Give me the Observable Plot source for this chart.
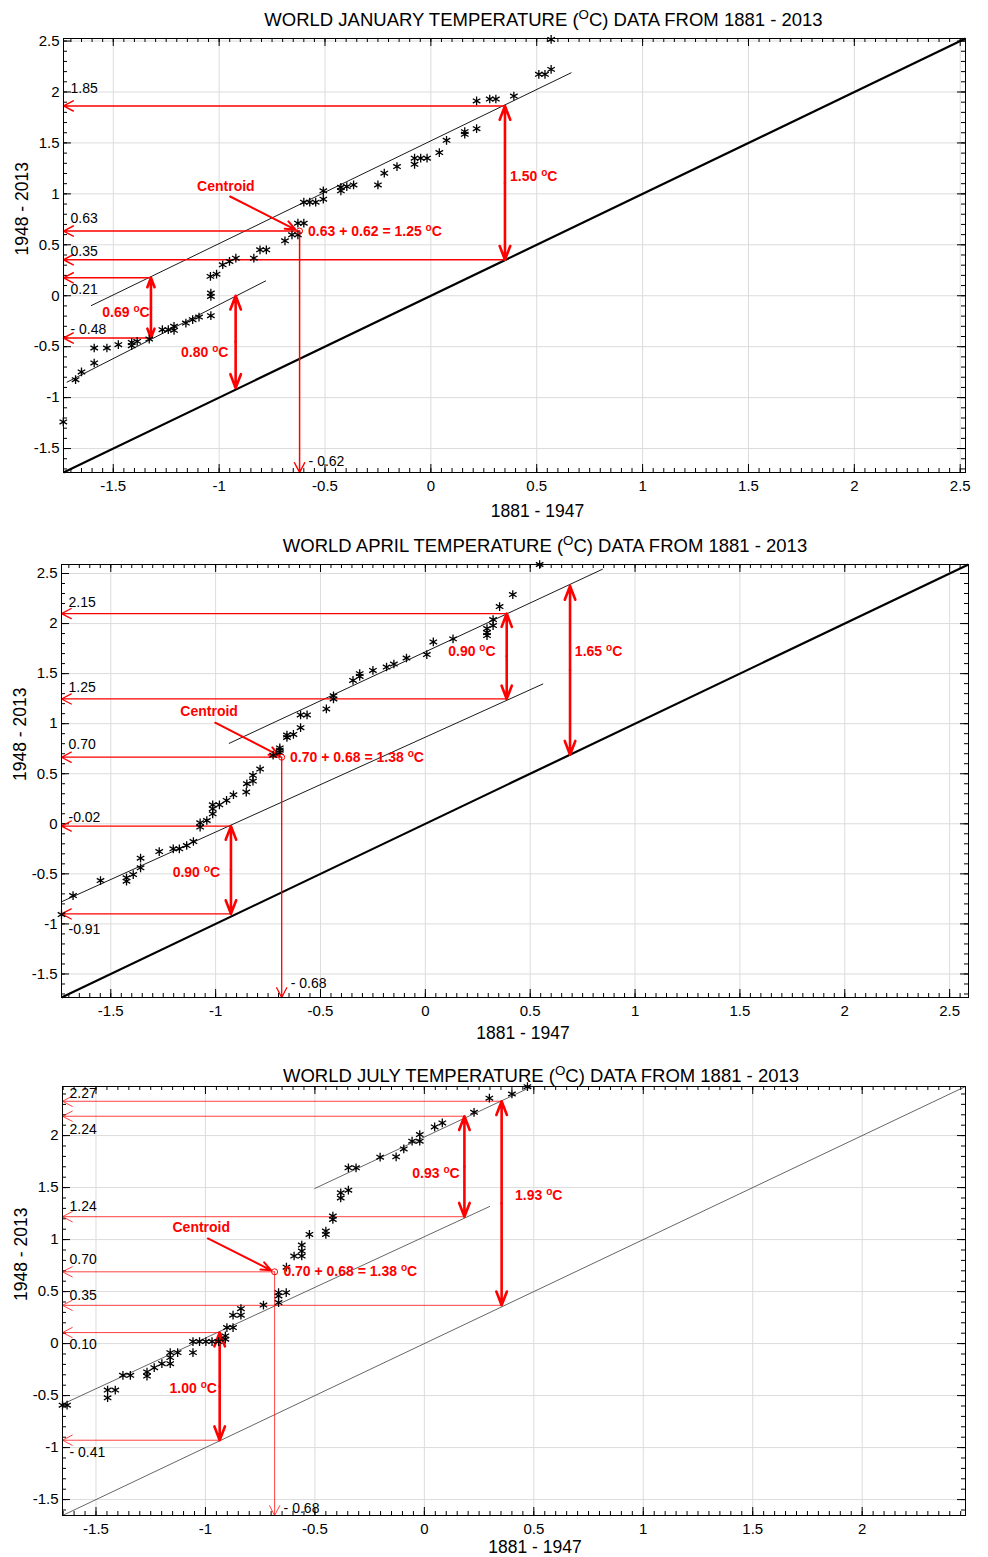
<!DOCTYPE html>
<html><head><meta charset="utf-8">
<script src="https://cdn.jsdelivr.net/npm/d3@7"></script>
<script src="https://cdn.jsdelivr.net/npm/@observablehq/plot@0.6"></script>
<style>
html,body{margin:0;padding:0;background:#fff}
body{width:988px;height:1557px;position:relative;overflow:hidden}
.panel{position:absolute;left:0}
.panel svg{display:block}
</style></head><body>
<div id="p1" class="panel" style="top:0px"></div>
<div id="p2" class="panel" style="top:525px"></div>
<div id="p3" class="panel" style="top:1050px"></div>
<script>
// ---------- data ----------
const majorTicks = [-1.5, -1, -0.5, 0, 0.5, 1, 1.5, 2, 2.5];
const titles = [
  "WORLD JANUARY TEMPERATURE (^OC) DATA FROM 1881 - 2013",
  "WORLD APRIL TEMPERATURE (^OC) DATA FROM 1881 - 2013",
  "WORLD JULY TEMPERATURE (^OC) DATA FROM 1881 - 2013"
];
const xLabel = "1881 - 1947";
const yLabel = "1948 - 2013";

// January: x = 1881-1947 anomaly, y = 1948-2013 anomaly
const janX = [0.568,0.51,0.539,0.568,0.392,0.216,0.278,0.307,0.216,0.16,0.16,0.074,0.04,-0.077,-0.048,-0.018,-0.077,-0.16,-0.22,-0.25,-0.365,-0.397,-0.425,-0.425,-0.508,-0.508,-0.6,-0.572,-0.544,-0.628,-0.6,-0.656,-0.628,-0.689,-0.807,-0.777,-0.836,-0.921,-0.951,-0.983,-1.012,-1.041,-1.039,-1.039,-1.039,-1.095,-1.125,-1.157,-1.213,-1.24,-1.268,-1.213,-1.33,-1.387,-1.413,-1.413,-1.476,-1.53,-1.59,-1.59,-1.65,-1.678,-1.736];
const janY = [2.516,2.173,2.173,2.222,1.96,1.912,1.931,1.931,1.64,1.611,1.585,1.526,1.405,1.35,1.35,1.35,1.29,1.268,1.203,1.088,1.088,1.072,1.065,1.03,1.03,0.948,0.918,0.918,0.918,0.712,0.712,0.598,0.598,0.539,0.451,0.451,0.369,0.369,0.337,0.304,0.212,0.19,0.026,-0.007,-0.196,-0.209,-0.235,-0.268,-0.30,-0.333,-0.333,-0.34,-0.425,-0.448,-0.458,-0.49,-0.48,-0.513,-0.513,-0.66,-0.748,-0.824,-1.239];

// April
const aprX = [0.545,0.417,0.354,0.323,0.323,0.294,0.294,0.294,0.132,0.038,0.007,-0.09,-0.15,-0.185,-0.25,-0.313,-0.313,-0.345,-0.438,-0.438,-0.472,-0.595,-0.564,-0.595,-0.66,-0.629,-0.66,-0.694,-0.694,-0.726,-0.694,-0.788,-0.822,-0.822,-0.851,-0.854,-0.915,-0.948,-0.982,-1.014,-1.014,-1.014,-1.042,-1.074,-1.074,-1.106,-1.138,-1.173,-1.202,-1.269,-1.358,-1.358,-1.393,-1.425,-1.425,-1.549,-1.68,-1.735];
const aprY = [2.59,2.29,2.17,2.04,1.98,1.95,1.91,1.88,1.847,1.817,1.69,1.656,1.596,1.566,1.532,1.5,1.472,1.432,1.278,1.247,1.147,1.087,1.087,0.96,0.886,0.893,0.862,0.758,0.735,0.685,0.71,0.547,0.484,0.427,0.4,0.317,0.29,0.233,0.19,0.19,0.15,0.1,0.033,0.01,-0.033,-0.177,-0.217,-0.25,-0.25,-0.277,-0.343,-0.44,-0.507,-0.54,-0.573,-0.567,-0.717,-0.907];

// July
const julX = [0.471,0.40,0.297,0.227,0.082,0.047,-0.021,-0.021,-0.056,-0.094,-0.129,-0.202,-0.347,-0.312,-0.347,-0.382,-0.382,-0.418,-0.418,-0.45,-0.45,-0.525,-0.56,-0.56,-0.595,-0.56,-0.63,-0.666,-0.666,-0.666,-0.631,-0.735,-0.838,-0.838,-0.874,-0.874,-0.902,-0.909,-0.909,-0.94,-0.97,-0.998,-1.027,-1.057,-1.057,-1.127,-1.161,-1.161,-1.161,-1.199,-1.234,-1.267,-1.267,-1.343,-1.377,-1.412,-1.447,-1.447,-1.632,-1.653];
const julY = [2.47,2.40,2.36,2.224,2.122,2.083,2.01,1.946,1.946,1.872,1.796,1.792,1.69,1.69,1.475,1.45,1.40,1.226,1.194,1.082,1.05,1.05,0.947,0.89,0.842,0.842,0.735,0.49,0.458,0.394,0.49,0.37,0.336,0.273,0.273,0.154,0.154,0.074,0.042,0.019,0.019,0.019,0.019,0.019,-0.087,-0.087,-0.087,-0.135,-0.193,-0.193,-0.232,-0.273,-0.312,-0.305,-0.305,-0.447,-0.447,-0.521,-0.592,-0.592];

// fitted / offset lines
const janLines = [{x1:-1.605,y1:-0.098,x2:0.664,y2:2.19},{x1:-1.72,y1:-0.85,x2:-0.779,y2:0.147}];
const aprLines = [{x1:-0.937,y1:0.802,x2:0.846,y2:2.544},{x1:-1.735,y1:-0.779,x2:0.562,y2:1.398}];
const julLines = [{x1:-0.502,y1:1.49,x2:0.49,y2:2.47},{x1:-1.653,y1:-0.583,x2:0.30,y2:1.32}];

// centroids
const janCentroid = {x:-0.62, y:0.635, drop:"- 0.62", sum:"0.63 + 0.62 = 1.25 ^oC"};
const aprCentroid = {x:-0.685, y:0.665, drop:"- 0.68", sum:"0.70 + 0.68 = 1.38 ^oC"};
const julCentroid = {x:-0.684, y:0.69, drop:"- 0.68", sum:"0.70 + 0.68 = 1.38 ^oC"};

// "Centroid" pointer: from label to centroid
const janPointer = {lx:-0.968, ly:1.07, x1:-0.948, y1:0.974, x2:-0.64, y2:0.65};
const aprPointer = {lx:-1.031, ly:1.12, x1:-1.002, y1:1.01, x2:-0.697, y2:0.682};
const julPointer = {lx:-1.019, ly:1.114, x1:-0.989, y1:1.011, x2:-0.70, y2:0.704};

// horizontal read-off arrows (from x to the y axis) and their value labels
const janH = [{y:1.863,x:0.35,label:"1.85",ly:2.037},{y:0.635,x:-0.62,label:"0.63",ly:0.761},{y:0.353,x:0.35,label:"0.35",ly:0.434},{y:0.176,x:-1.322,label:"0.21",ly:0.059},{y:-0.415,x:-1.322,label:"- 0.48",ly:-0.333}];
const aprH = [{y:2.10,x:0.388,label:"2.15",ly:2.215},{y:1.247,x:0.388,label:"1.25",ly:1.365},{y:0.665,x:-0.685,label:"0.70",ly:0.792},{y:-0.023,x:-0.931,label:"-0.02",ly:0.06},{y:-0.90,x:-0.931,label:"-0.91",ly:-1.06}];
const julH = [{y:2.33,x:0.353,label:"2.27",ly:2.40},{y:2.186,x:0.183,label:"2.24",ly:2.058},{y:1.22,x:0.183,label:"1.24",ly:1.32},{y:0.69,x:-0.684,label:"0.70",ly:0.81},{y:0.368,x:0.353,label:"0.35",ly:0.464},{y:0.106,x:-0.935,label:"0.10",ly:-0.006},{y:-0.929,x:-0.935,label:"- 0.41",ly:-1.05}];

// vertical double arrows (differences) with their labels
const janD = [{x:0.35,y1:0.353,y2:1.863,text:"1.50 ^oC",tx:0.374,ty:1.175},{x:-1.322,y1:-0.415,y2:0.176,text:"0.69 ^oC",tx:-1.552,ty:-0.163},{x:-0.922,y1:-0.905,y2:0.0,text:"0.80 ^oC",tx:-1.18,ty:-0.561}];
const aprD = [{x:0.388,y1:1.247,y2:2.10,text:"0.90 ^oC",tx:0.109,ty:1.723},{x:0.69,y1:0.69,y2:2.376,text:"1.65 ^oC",tx:0.713,ty:1.723},{x:-0.927,y1:-0.90,y2:-0.023,text:"0.90 ^oC",tx:-1.205,ty:-0.49}];
const julD = [{x:0.183,y1:1.22,y2:2.186,text:"0.93 ^oC",tx:-0.055,ty:1.632},{x:0.353,y1:0.368,y2:2.33,text:"1.93 ^oC",tx:0.414,ty:1.423},{x:-0.935,y1:-0.929,y2:0.106,text:"1.00 ^oC",tx:-1.164,ty:-0.434}];

// ---------- drawing ----------
const RED = "#ff0000";
const FONT = "'Liberation Sans', Arial, Helvetica, sans-serif";

function supify(svg) {
  const ns = "http://www.w3.org/2000/svg";
  svg.querySelectorAll("text").forEach(t => {
    if (t.querySelector("tspan")) return;
    const s = t.textContent;
    const i = s.indexOf("^");
    if (i < 0) return;
    t.textContent = "";
    const add = (txt, sup) => {
      const e = document.createElementNS(ns, "tspan");
      e.textContent = txt;
      if (sup) { e.setAttribute("baseline-shift", "super"); e.setAttribute("font-size", "72%"); }
      t.appendChild(e);
    };
    add(s.slice(0, i)); add(s[i + 1], true); add(s.slice(i + 2));
  });
}

function drawPanel(c) {
  const [d0, d1] = c.domain;
  const m = c.margin;
  const pw = 988 - m.left - m.right, ph = c.height - m.top - m.bottom;
  const inside = v => v >= d0 - 1e-9 && v <= d1 + 1e-9;
  const major = majorTicks.filter(inside);
  const minorX = d3.range(-40, 60).map(i => Math.round(i * 5) / 100).filter(inside);
  const minorY = d3.range(-20, 30).map(i => Math.round(i * 10) / 100).filter(inside);
  const pts = c.xs.map((x, i) => ({x, y: c.ys[i]}));
  const diag = [{x1: d0, y1: d0, x2: d1, y2: d1}];
  const segs = c.D.flatMap(d => {
    const mid = (d.y1 + d.y2) / 2;
    return [{x: d.x, m: mid, e: d.y1}, {x: d.x, m: mid, e: d.y2}];
  });
  const cen = c.centroid, ptr = c.pointer;
  const svg = Plot.plot({
    width: 988, height: c.height,
    marginTop: m.top, marginRight: m.right, marginBottom: m.bottom, marginLeft: m.left,
    x: {domain: c.domain, label: null},
    y: {domain: c.domain, label: null},
    style: {fontFamily: FONT, background: "white", overflow: "visible", color: "black"},
    marks: [
      Plot.gridX(major, {stroke: "#dcdcdc", strokeOpacity: 1}),
      Plot.gridY(major, {stroke: "#dcdcdc", strokeOpacity: 1}),
      // inward tick marks on all four sides
      Plot.ruleX(minorX, {x: d => d, insetTop: ph - 4, stroke: "black"}),
      Plot.ruleX(minorX, {x: d => d, insetBottom: ph - 4, stroke: "black"}),
      Plot.ruleX(major, {x: d => d, insetTop: ph - 8, stroke: "black"}),
      Plot.ruleX(major, {x: d => d, insetBottom: ph - 8, stroke: "black"}),
      Plot.ruleY(minorY, {y: d => d, insetRight: pw - 4, stroke: "black"}),
      Plot.ruleY(minorY, {y: d => d, insetLeft: pw - 4, stroke: "black"}),
      Plot.ruleY(major, {y: d => d, insetRight: pw - 8, stroke: "black"}),
      Plot.ruleY(major, {y: d => d, insetLeft: pw - 8, stroke: "black"}),
      Plot.axisX({ticks: major, anchor: "bottom", tickSize: 0, tickPadding: 8, tickFormat: d => String(d), fontSize: 15, label: null}),
      Plot.axisY({ticks: major, anchor: "left", tickSize: 0, tickPadding: 4, tickFormat: d => String(d), fontSize: 15, label: null}),
      // y = x reference and the offset lines
      Plot.link(diag, {x1: "x1", y1: "y1", x2: "x2", y2: "y2", stroke: c.diagColor, strokeWidth: c.diagWidth}),
      Plot.link(c.lines, {x1: "x1", y1: "y1", x2: "x2", y2: "y2", stroke: c.lineColor, strokeWidth: 0.9}),
      // red read-off arrows
      Plot.arrow(c.H, {x1: "x", y1: "y", x2: d0, y2: "y", stroke: RED, strokeWidth: c.hWidth, headLength: 11 * 1.5 / c.hWidth, headAngle: 55, strokeOpacity: c.hOpacity}),
      Plot.arrow([cen], {x1: "x", y1: "y", x2: "x", y2: d0, stroke: RED, strokeWidth: c.hWidth, headLength: 11 * 1.5 / c.hWidth, headAngle: 55, strokeOpacity: c.hOpacity}),
      Plot.arrow(segs, {x1: "x", y1: "m", x2: "x", y2: "e", stroke: RED, strokeWidth: 2.6, headLength: 8.5, headAngle: 42}),
      Plot.arrow([ptr], {x1: "x1", y1: "y1", x2: "x2", y2: "y2", stroke: RED, strokeWidth: 2, headLength: 8, headAngle: 45}),
      // data points
      Plot.dot(pts, {x: "x", y: "y", symbol: "asterisk", r: 4.1, stroke: "black", strokeWidth: 1.3}),
      Plot.dot([cen], {x: "x", y: "y", r: 3, stroke: RED, fill: "none", strokeWidth: 1}),
      // labels
      Plot.text(c.H, {y: "ly", text: "label", frameAnchor: "left", dx: 7, textAnchor: "start", fontSize: 14, fill: "black"}),
      Plot.text([cen], {x: "x", text: "drop", frameAnchor: "bottom", lineAnchor: "middle", dx: 9, dy: c.dropDy, textAnchor: "start", fontSize: 14, fill: "black"}),
      Plot.text(c.D, {x: "tx", y: "ty", text: "text", textAnchor: "start", fontSize: 14, fontWeight: "bold", fill: RED}),
      Plot.text([ptr], {x: "lx", y: "ly", text: () => "Centroid", textAnchor: "middle", fontSize: 14, fontWeight: "bold", fill: RED}),
      Plot.text([cen], {x: d => d.x + 0.04, y: "y", text: "sum", textAnchor: "start", fontSize: 14, fontWeight: "bold", fill: RED}),
      // titles
      Plot.text([c.title], {text: d => d, frameAnchor: "top", lineAnchor: "middle", dx: c.titleDx, dy: c.titleDy, fontSize: 18.5, fill: "black"}),
      Plot.text([xLabel], {text: d => d, frameAnchor: "bottom", lineAnchor: "middle", dx: c.xlabDx, dy: c.xlabDy, fontSize: 17.5, fill: "black"}),
      Plot.text([yLabel], {text: d => d, frameAnchor: "left", rotate: -90, dx: -41, fontSize: 17.5, fill: "black"}),
      Plot.frame({stroke: "black", strokeWidth: 1})
    ]
  });
  supify(svg);
  return svg;
}

const panels = [
  {id: "p1", height: 525, margin: {top: 38, right: 23, bottom: 53, left: 63}, domain: [-1.735, 2.525],
   xs: janX, ys: janY, lines: janLines, centroid: janCentroid, pointer: janPointer, H: janH, D: janD,
   title: titles[0], titleDx: 29, titleDy: -18, xlabDx: 23, xlabDy: 39, dropDy: -11,
   diagColor: "black", diagWidth: 2.2, lineColor: "black", hWidth: 1.5, hOpacity: 1},
  {id: "p2", height: 525, margin: {top: 39, right: 20, bottom: 53, left: 61}, domain: [-1.735, 2.59],
   xs: aprX, ys: aprY, lines: aprLines, centroid: aprCentroid, pointer: aprPointer, H: aprH, D: aprD,
   title: titles[1], titleDx: 30, titleDy: -18, xlabDx: 8, xlabDy: 36, dropDy: -14,
   diagColor: "black", diagWidth: 2.2, lineColor: "black", hWidth: 1.3, hOpacity: 1},
  {id: "p3", height: 507, margin: {top: 36, right: 23, bottom: 42, left: 62}, domain: [-1.653, 2.472],
   xs: julX, ys: julY, lines: julLines, centroid: julCentroid, pointer: julPointer, H: julH, D: julD,
   title: titles[2], titleDx: 27, titleDy: -10, xlabDx: 21, xlabDy: 32, dropDy: -7,
   diagColor: "#555", diagWidth: 0.9, lineColor: "#555", hWidth: 1, hOpacity: 0.75}
];

for (const p of panels) {
  document.getElementById(p.id).appendChild(drawPanel(p));
}
</script>
</body></html>
